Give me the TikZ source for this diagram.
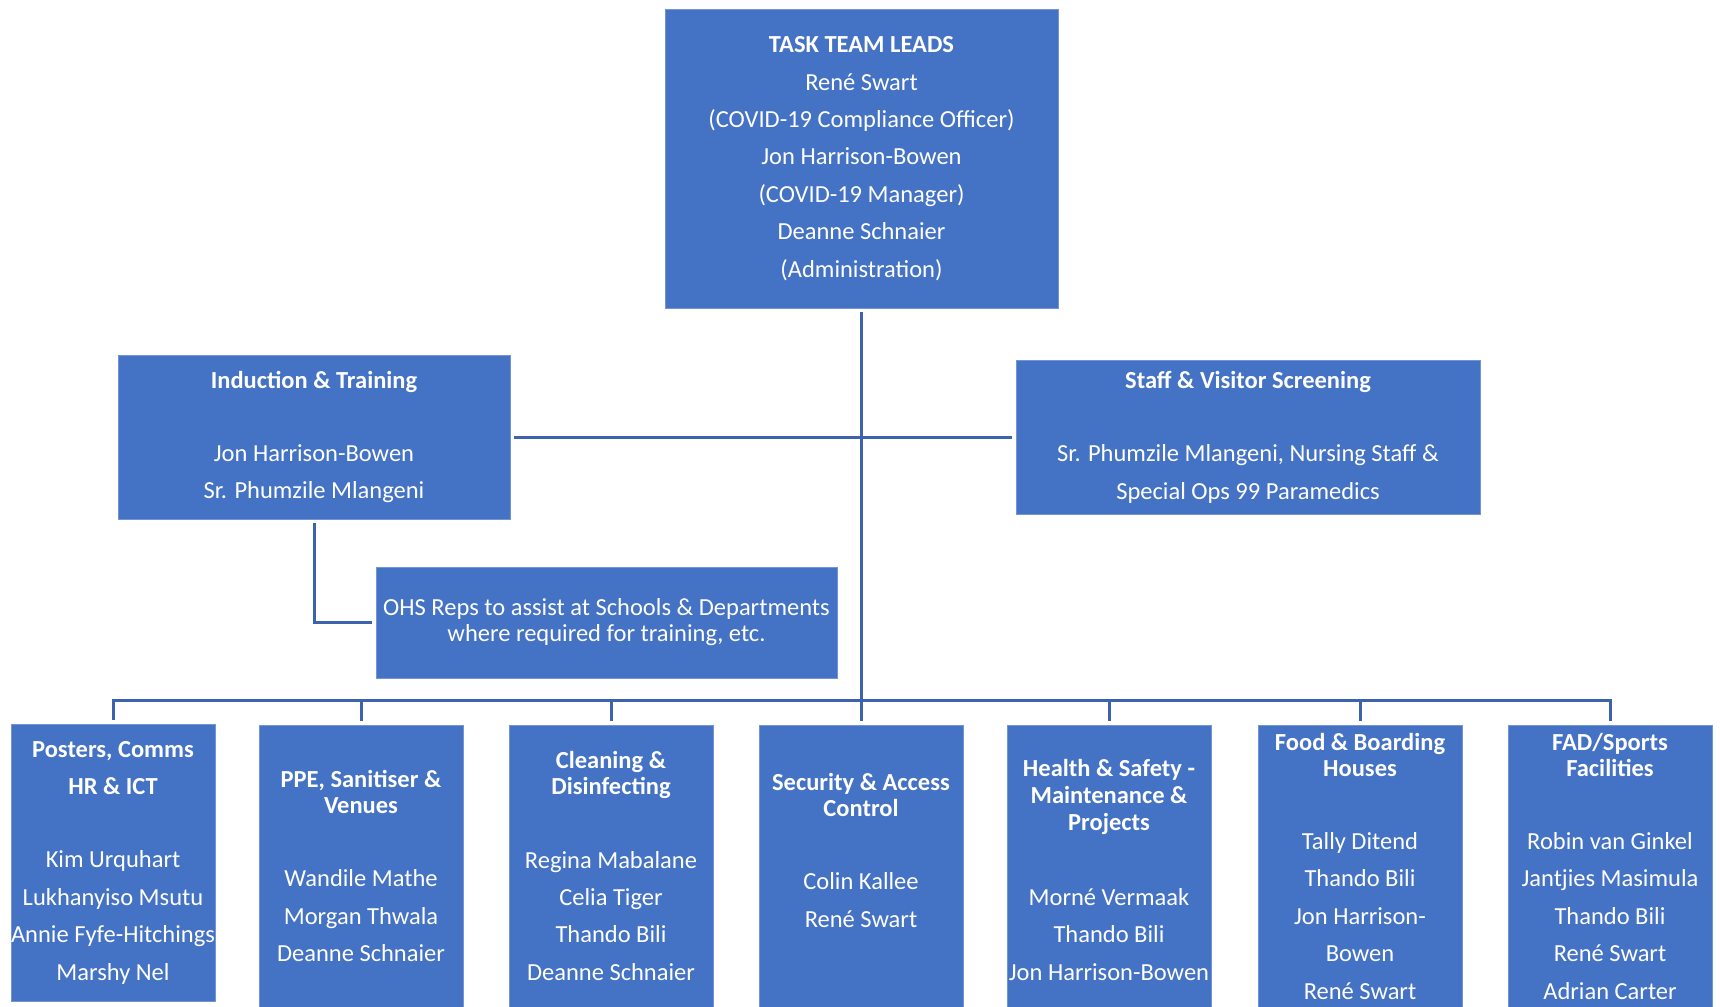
\documentclass[tikz,border=0pt]{standalone}
\usepackage{fontspec}
\setmainfont{Carlito}
\usepackage{tikz}
\usetikzlibrary{arrows}
\usepackage{xcolor}
\definecolor{ttbox}{HTML}{4472C4}
\definecolor{ttline}{HTML}{3C63AC}

\begin{document}
\begin{tikzpicture}[x=0.5pt, y=-0.5pt, line width=1.5pt,
		box/.style={fill=ttbox, draw=ttbox!75!white, line width=0.4pt, text=white, align=center, inner sep=0pt, font=\fontsize{12.25}{18.7}\selectfont},
		team/.style={box, minimum width=102pt, minimum height=141pt},
		link/.style={draw=ttline, shorten <=2pt, shorten >=2pt}]
		\useasboundingbox (0,0) rectangle (1720,1007);
		\node[box, minimum width=196.5pt, minimum height=149.5pt] (lead) at (861.5,158.5) {\textbf{TASK TEAM LEADS}\\ René Swart\\ (COVID-19 Compliance Officer)\\ Jon Harrison-Bowen\\ (COVID-19 Manager)\\ Deanne Schnaier\\ (Administration)};
		\node[box, minimum width=196pt, minimum height=82pt] (induct) at (314,437) {\textbf{Induction \& Training}\\[18pt] Jon Harrison-Bowen\\ Sr. Phumzile Mlangeni};
		\node[box, minimum width=232pt, minimum height=77pt] (screen) at (1248,437) {\textbf{Staff \& Visitor Screening}\\[18pt] Sr. Phumzile Mlangeni, Nursing Staff \&\\ Special Ops 99 Paramedics};
		\node[box, minimum width=230.5pt, minimum height=55.5pt] (ohs) at (606.5,622.5) {OHS Reps to assist at Schools \& Departments\\[-5.7pt] where required for training, etc.};
		\node[team, minimum height=138.5pt] (posters) at (113,862.5) {\textbf{Posters, Comms}\\ \textbf{HR \& ICT}\\[18pt] Kim Urquhart\\ Lukhanyiso Msutu\\ Annie Fyfe-Hitchings\\ Marshy Nel};
		\node[team] (ppe) at (361,866) {\textbf{PPE, Sanitiser \&}\\[-5.7pt] \textbf{Venues}\\[18pt] Wandile Mathe\\ Morgan Thwala\\ Deanne Schnaier};
		\node[team] (clean) at (611,866) {\textbf{Cleaning \&}\\[-5.7pt] \textbf{Disinfecting}\\[18pt] Regina Mabalane\\ Celia Tiger\\ Thando Bili\\ Deanne Schnaier};
		\node[team] (secure) at (861,866) {\textbf{Security \& Access}\\[-5.7pt] \textbf{Control}\\[18pt] Colin Kallee\\ René Swart\\[-3pt] \mbox{}};
		\node[team, minimum height=145pt] (health) at (1109,870) {\textbf{Health \& Safety -}\\[-5.2pt] \textbf{Maintenance \&}\\[-5.2pt] \textbf{Projects}\\[18.5pt] Morné Vermaak\\ Thando Bili\\ Jon Harrison-Bowen};
		\node[team] (food) at (1360,866) {\textbf{Food \& Boarding}\\[-5.7pt] \textbf{Houses}\\[18pt] Tally Ditend\\ Thando Bili\\ Jon Harrison-\\ Bowen\\ René Swart};
		\node[team] (fad) at (1610,866) {\textbf{FAD/Sports}\\[-5.7pt] \textbf{Facilities}\\[18pt] Robin van Ginkel\\ Jantjies Masimula\\ Thando Bili\\ René Swart\\ Adrian Carter};
		\coordinate (hub) at (861.5,700);
		\draw[link, shorten >=0pt] (lead.south) -- (hub);
		\draw[link] (induct.east) -- (screen.west);
		\draw[link] (induct.south) |- (ohs.west);
		\draw[link, shorten <=0pt, shorten >=0pt, line cap=rect] (posters.north |- hub) -- (fad.north |- hub);
		\foreach \n in {posters, ppe, clean, secure, health, food, fad}
			\draw[link, shorten <=0pt] (\n.north |- hub) -- (\n.north);
	\end{tikzpicture}
\end{document}
